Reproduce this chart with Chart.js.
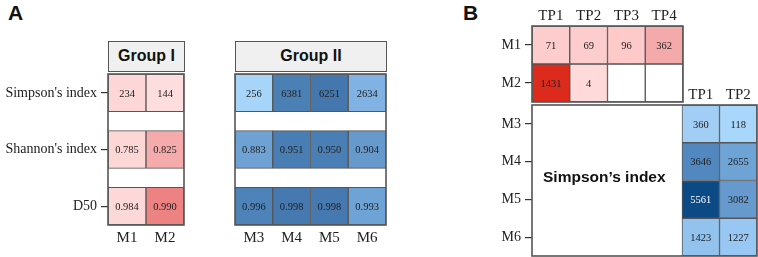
<!DOCTYPE html>
<html>
<head>
<meta charset="utf-8">
<script src="https://cdn.jsdelivr.net/npm/chart.js@4.4.1/dist/chart.umd.min.js"></script>
<style>
  body { margin: 0; width: 758px; height: 257px; background: #fff; position: relative; overflow: hidden; font-family: "Liberation Sans", Arial, sans-serif; }
  .panel { position: absolute; }
  .letter { position: absolute; font-weight: bold; font-size: 21px; color: #111; }
  .strip { position: absolute; background: #f0f0f0; border: 1.5px solid #555; box-sizing: border-box; text-align: center; font-weight: bold; font-size: 16px; line-height: 27px; color: #111; }
  .label { position: absolute; font-weight: bold; font-size: 15.5px; color: #111; }
</style>
</head>
<body>
<div class="letter" style="left:8px;top:1px">A</div>
<div class="letter" style="left:463px;top:1px">B</div>
<div class="strip" style="left:108px;top:41px;width:77px;height:31px">Group I</div>
<div class="strip" style="left:235px;top:41px;width:152px;height:31px">Group II</div>

<div class="panel" style="left:0;top:70px;width:186px;height:181px"><canvas id="groupI"></canvas></div>
<div class="panel" style="left:233px;top:70px;width:155px;height:181px"><canvas id="groupII"></canvas></div>
<div class="panel" style="left:470px;top:0;width:215px;height:104px"><canvas id="timeI"></canvas></div>
<div class="panel" style="left:470px;top:80px;width:288px;height:177px"><canvas id="timeII"></canvas></div>
<div class="label" style="left:543px;top:168px">Simpson’s index</div>

<script>
// Datos del panel A
const groupIMice = ['M1', 'M2'];
const groupIIMice = ['M3', 'M4', 'M5', 'M6'];
const indexNames = ["Simpson's index", "Shannon's index", 'D50'];
const simpsonGroupI = [234, 144];
const shannonGroupI = [0.785, 0.825];
const d50GroupI = [0.984, 0.990];
const simpsonGroupII = [256, 6381, 6251, 2634];
const shannonGroupII = [0.883, 0.951, 0.950, 0.904];
const d50GroupII = [0.996, 0.998, 0.998, 0.993];

// Datos del panel B (Simpson por punto de tiempo)
const timepointsGroupI = ['TP1', 'TP2', 'TP3', 'TP4'];
const timepointsGroupII = ['TP1', 'TP2'];
const simpsonM1 = [71, 69, 96, 362];
const simpsonM2 = [1431, 4, null, null];
const simpsonM3 = [360, 118];
const simpsonM4 = [3646, 2655];
const simpsonM5 = [5561, 3082];
const simpsonM6 = [1423, 1227];

// Colores de cada celda
const groupIColors = [['#fdd7d7', '#fddddd'], ['#fdd6d6', '#f5abab'], ['#fdd8d8', '#ec8282']];
const groupIIColors = [
  ['#a7d5fa', '#4b80b5', '#4477ad', '#80b3e3'],
  ['#6fa2d4', '#497eb4', '#4a7fb5', '#6699cc'],
  ['#4d83b9', '#4579b0', '#4579b0', '#6ea3d5']
];
const timeIColors = [['#fdcccc', '#fdcdcd', '#fdc9c9', '#f4aaaa'], ['#dc2b1d', '#fedada', '#ffffff', '#ffffff']];
const timeIIColors = [['#a2cef5', '#a9d6fb'], ['#5088bf', '#6ea3d6'], ['#0c4a86', '#6699cd'], ['#92c3ef', '#97c7f2']];

const serif = '"Liberation Serif", "Times New Roman", serif';
const lineColor = '#555';

const formatValue = (v) => Number.isInteger(v) ? String(v) : v.toFixed(3);
const isDark = (hex) => {
  const n = parseInt(hex.slice(1), 16);
  return 0.299 * (n >> 16) + 0.587 * ((n >> 8) & 255) + 0.114 * (n & 255) < 90;
};

// Marco alrededor del área del gráfico + valores dentro de las celdas
const heatPlugin = {
  id: 'heat',
  afterDatasetsDraw(chart) {
    const { ctx, chartArea: a } = chart;
    ctx.save();
    ctx.font = '10.5px ' + serif;
    ctx.textAlign = 'center';
    ctx.textBaseline = 'middle';
    chart.data.datasets.forEach((ds, d) => {
      chart.getDatasetMeta(d).data.forEach((bar, i) => {
        const v = ds.values[i];
        if (v == null || ds.data[i] == null) return;
        ctx.fillStyle = isDark(ds.backgroundColor[i]) ? '#fff' : '#222';
        ctx.fillText(formatValue(v), bar.x, (bar.y + bar.base) / 2 + 1);
      });
    });
    ctx.strokeStyle = lineColor;
    ctx.lineWidth = 1.6;
    ctx.strokeRect(a.left, a.top, a.right - a.left, a.bottom - a.top);
    ctx.restore();
  }
};

const noPadding = (scale) => {
  scale.paddingTop = 0;
  scale.paddingBottom = 0;
};

const makeHeatmap = (id, { columns, rows, yMax, yWidth, xHeight, xPosition, xPad, showY, padding, empty }) => {
  const datasets = rows.map((row) => ({
    values: row.values,
    data: row.values.map((v, i) => (v == null && !empty) || row.colors[i] == null ? null : [row.start, row.start + 1]),
    backgroundColor: row.colors,
    borderColor: lineColor,
    borderWidth: 1,
    borderSkipped: false,
    barPercentage: 1,
    categoryPercentage: 1,
    grouped: false
  }));
  return new Chart(document.getElementById(id), {
    type: 'bar',
    data: { labels: columns, datasets },
    options: {
      responsive: true,
      maintainAspectRatio: false,
      animation: false,
      layout: { padding },
      plugins: { legend: { display: false }, tooltip: { enabled: false } },
      scales: {
        x: {
          position: xPosition,
          grid: { display: false, drawTicks: false },
          border: { display: false },
          ticks: { color: '#222', font: { family: serif, size: 15 }, padding: xPad, maxRotation: 0, autoSkip: false },
          afterFit: (scale) => { scale.height = xHeight; }
        },
        y: {
          display: showY,
          reverse: true,
          min: 0,
          max: yMax,
          grid: { drawOnChartArea: false, drawTicks: true, tickLength: 7, color: '#333', lineWidth: 1.2 },
          border: { display: false },
          afterBuildTicks: (scale) => { scale.ticks = rows.map((r) => ({ value: r.start + 0.5 })); },
          ticks: { color: '#222', font: { family: serif, size: 14 }, padding: 4, callback: (value, i) => rows[i].name },
          afterFit: (scale) => { scale.width = yWidth; noPadding(scale); }
        }
      }
    },
    plugins: [heatPlugin]
  });
};

// Panel A: filas separadas por un hueco de media celda
const groupIRows = [simpsonGroupI, shannonGroupI, d50GroupI].map((values, i) =>
  ({ name: indexNames[i], values, colors: groupIColors[i], start: i * 1.5 }));
const groupIIRows = [simpsonGroupII, shannonGroupII, d50GroupII].map((values, i) =>
  ({ name: indexNames[i], values, colors: groupIIColors[i], start: i * 1.5 }));

makeHeatmap('groupI', { columns: groupIMice, rows: groupIRows, yMax: 4, yWidth: 108, xHeight: 26, xPad: 4,
  xPosition: 'bottom', showY: true, padding: { top: 4, right: 2 } });
makeHeatmap('groupII', { columns: groupIIMice, rows: groupIIRows, yMax: 4, yWidth: 0, xHeight: 26, xPad: 4,
  xPosition: 'bottom', showY: false, padding: { top: 4, right: 2, left: 2 } });

// Panel B: bloque superior (M1, M2) y bloque inferior (M3 a M6)
const timeIRows = [simpsonM1, simpsonM2].map((values, i) =>
  ({ name: 'M' + (i + 1), values, colors: timeIColors[i], start: i }));
const blankColumns = ['', '', '', ''];
const timeIIRows = [simpsonM3, simpsonM4, simpsonM5, simpsonM6].map((values, i) =>
  ({ name: 'M' + (i + 3), values: [null, null, null, null, ...values], colors: [null, null, null, null, ...timeIIColors[i]], start: i }));

makeHeatmap('timeI', { columns: timepointsGroupI, rows: timeIRows, yMax: 2, yWidth: 62, xHeight: 26, xPad: 1,
  xPosition: 'top', showY: true, padding: { right: 2, bottom: 2 }, empty: true });
makeHeatmap('timeII', { columns: [...blankColumns, ...timepointsGroupII], rows: timeIIRows, yMax: 4, yWidth: 62, xHeight: 25, xPad: 1,
  xPosition: 'top', showY: true, padding: { right: 1, bottom: 1 } });
</script>
</body>
</html>
